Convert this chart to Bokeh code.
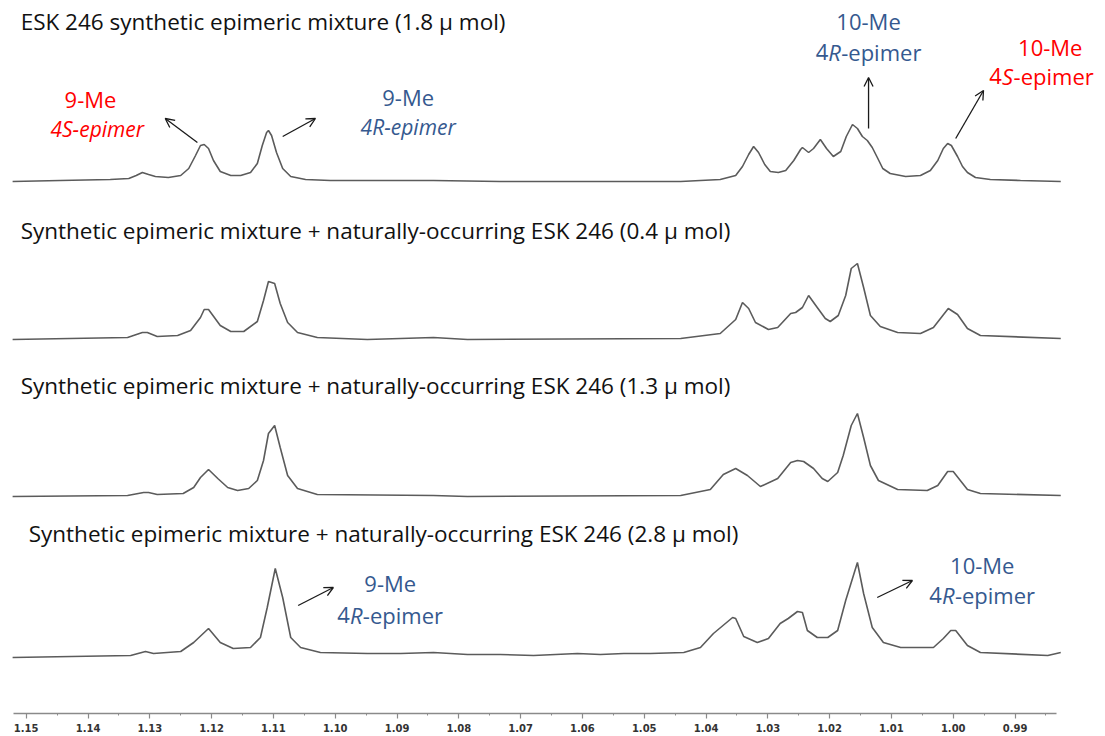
from bokeh.plotting import figure
from bokeh.models import Range1d, FixedTicker, PrintfTickFormatter, Arrow, OpenHead
from bokeh.core.properties import value
from bokeh.embed import file_html
from bokeh.resources import INLINE

# ---------------- data ----------------
major_ticks = [1.15, 1.14, 1.13, 1.12, 1.11, 1.10, 1.09, 1.08, 1.07, 1.06,
               1.05, 1.04, 1.03, 1.02, 1.01, 1.00, 0.99]
minor_ticks = [1.145, 1.135, 1.125, 1.115, 1.105, 1.095, 1.085, 1.075, 1.065,
               1.055, 1.045, 1.035, 1.025, 1.015, 1.005, 0.995, 0.985]

# (ppm, relative intensity)
trace1 = [(1.1522, 0), (1.1445, 1), (1.1364, 2), (1.1334, 3), (1.1322, 6), (1.1312, 9),
          (1.1302, 7), (1.1291, 5), (1.1270, 4), (1.1250, 6), (1.1237, 13), (1.1226, 26),
          (1.1218, 36), (1.1212, 37), (1.1205, 33), (1.1197, 21), (1.1186, 10), (1.1169, 6),
          (1.1153, 6), (1.1137, 9), (1.1126, 18), (1.1118, 36), (1.1111, 49), (1.1108, 51),
          (1.1103, 46), (1.1095, 29), (1.1085, 13), (1.1072, 5), (1.1048, 2), (1.1008, 1),
          (1.0927, 1), (1.0841, 1), (1.0733, 0), (1.0571, 0), (1.0441, 0), (1.0377, 2),
          (1.0352, 6), (1.0341, 15), (1.0331, 27), (1.0323, 35), (1.0315, 29), (1.0305, 17),
          (1.0296, 10), (1.0283, 9), (1.0271, 11), (1.0258, 21), (1.0247, 32), (1.0244, 34),
          (1.0234, 29), (1.0226, 33), (1.0215, 42), (1.0205, 33), (1.0194, 25), (1.0182, 30),
          (1.0173, 45), (1.0163, 57), (1.0155, 53), (1.0147, 45), (1.0139, 41), (1.0131, 34),
          (1.0122, 23), (1.0114, 13), (1.0102, 8), (1.0077, 5), (1.0053, 6), (1.0037, 11),
          (1.0025, 21), (1.0016, 33), (1.0009, 38), (1.0003, 36), (0.9993, 25), (0.9985, 15),
          (0.9977, 9), (0.9964, 4), (0.9940, 2), (0.9891, 1), (0.9826, 0)]

trace2 = [(1.1522, 0), (1.1336, 2), (1.1312, 7), (1.1304, 7), (1.1288, 3), (1.1255, 4),
          (1.1234, 9), (1.1218, 22), (1.1212, 30), (1.1205, 30), (1.1186, 14), (1.1169, 8),
          (1.1148, 8), (1.1126, 18), (1.1116, 39), (1.1108, 58), (1.1098, 56), (1.1089, 36),
          (1.1077, 17), (1.1061, 7), (1.1029, 2), (1.0948, 0), (1.0841, 2), (1.0786, 0),
          (1.0441, 1), (1.0377, 6), (1.0352, 20), (1.0341, 37), (1.0331, 31), (1.0320, 17),
          (1.0299, 10), (1.0284, 12), (1.0263, 26), (1.0255, 27), (1.0244, 32), (1.0234, 44),
          (1.0220, 32), (1.0207, 21), (1.0199, 18), (1.0186, 24), (1.0174, 44), (1.0165, 71),
          (1.0155, 76), (1.0145, 52), (1.0134, 24), (1.0118, 13), (1.0090, 7), (1.0053, 6),
          (1.0032, 12), (1.0008, 31), (0.9993, 25), (0.9977, 11), (0.9956, 4), (0.9826, 1)]

trace3 = [(1.1522, 0), (1.1336, 1), (1.1310, 4), (1.1302, 4), (1.1288, 2), (1.1246, 3),
          (1.1229, 9), (1.1218, 19), (1.1205, 27), (1.1190, 18), (1.1174, 9), (1.1158, 6),
          (1.1140, 8), (1.1126, 16), (1.1116, 36), (1.1108, 63), (1.1098, 71), (1.1089, 49),
          (1.1077, 21), (1.1061, 8), (1.1029, 2), (1.0841, 1), (1.0786, 0), (1.0441, 1),
          (1.0393, 7), (1.0372, 22), (1.0352, 28), (1.0333, 21), (1.0312, 10), (1.0284, 18),
          (1.0263, 34), (1.0252, 36), (1.0242, 35), (1.0226, 28), (1.0212, 18), (1.0203, 15),
          (1.0187, 24), (1.0178, 41), (1.0165, 71), (1.0155, 83), (1.0145, 59), (1.0134, 31),
          (1.0121, 16), (1.0090, 7), (1.0042, 6), (1.0025, 11), (1.0009, 25), (1.0000, 25),
          (0.9977, 7), (0.9956, 3), (0.9826, 1)]

trace4 = [(1.1522, 0), (1.1331, 2), (1.1307, 6), (1.1294, 4), (1.1250, 6), (1.1229, 15),
          (1.1205, 29), (1.1186, 15), (1.1165, 9), (1.1137, 10), (1.1121, 20), (1.1110, 50),
          (1.1097, 89), (1.1085, 60), (1.1072, 20), (1.1056, 10), (1.1024, 5), (1.0948, 4),
          (1.0894, 4), (1.0841, 5), (1.0786, 3), (1.0733, 3), (1.0679, 2), (1.0608, 4),
          (1.0571, 3), (1.0533, 4), (1.0490, 4), (1.0436, 5), (1.0409, 10), (1.0388, 24),
          (1.0357, 40), (1.0352, 39), (1.0339, 21), (1.0317, 15), (1.0299, 19), (1.0280, 34),
          (1.0267, 39), (1.0252, 46), (1.0244, 45), (1.0236, 27), (1.0220, 20), (1.0203, 20),
          (1.0187, 27), (1.0174, 57), (1.0155, 95), (1.0145, 64), (1.0131, 30), (1.0113, 15),
          (1.0085, 10), (1.0032, 10), (1.0016, 19), (1.0004, 27), (0.9996, 27), (0.9977, 12),
          (0.9956, 5), (0.9847, 2), (0.9826, 5)]

spectra = [trace1, trace2, trace3, trace4]

titles = ["ESK 246 synthetic epimeric mixture (1.8 \u03bc mol)",
          "Synthetic epimeric mixture + naturally-occurring ESK 246 (0.4 \u03bc mol)",
          "Synthetic epimeric mixture + naturally-occurring ESK 246 (1.3 \u03bc mol)",
          "Synthetic epimeric mixture + naturally-occurring ESK 246 (2.8 \u03bc mol)"]

# ---------------- layout ----------------
W, H = 1105, 736
FRAME_H = 713
offsets = [532, 374, 217, 56]            # vertical stacking offset per trace
title_x = [1.1509, 1.1509, 1.1509, 1.1496]
title_y = [692, 483, 328, 180]

RED = "#ff0000"
BLUE = "#35598f"
FONT = "Open Sans"
LBL_SIZE = 22

p = figure(width=W, height=H, x_range=Range1d(1.15416, 0.97536),
           y_range=Range1d(0, FRAME_H), output_backend="svg",
           toolbar_location=None, y_axis_location=None,
           min_border_left=0, min_border_right=0, min_border_top=0,
           min_border_bottom=H - FRAME_H)
p.outline_line_color = None
p.grid.visible = False
p.background_fill_color = "white"

ax = p.xaxis[0]
ax.ticker = FixedTicker(ticks=major_ticks, minor_ticks=minor_ticks)
ax.formatter = PrintfTickFormatter(format="%.2f")
ax.bounds = (0.9833, 1.1521)
ax.axis_line_color = "#8a8a8a"
ax.axis_line_width = 1.6
ax.major_tick_line_color = "#8a8a8a"
ax.major_tick_line_width = 1.2
ax.major_tick_in = 0
ax.major_tick_out = 5
ax.minor_tick_line_color = "#8a8a8a"
ax.minor_tick_in = 0
ax.minor_tick_out = 2
ax.major_label_text_font = "DejaVu Sans"
ax.major_label_text_font_style = "bold"
ax.major_label_text_font_size = "10px"
ax.major_label_text_color = "#333333"
ax.major_label_standoff = 5

for tr, off in zip(spectra, offsets):
    xs = [pt[0] for pt in tr]
    ys = [off + pt[1] for pt in tr]
    p.line(xs, ys, line_color="#5b5b5b", line_width=1.6)

p.text(x=title_x, y=title_y, text=titles, text_font=value(FONT),
       text_font_size="22.5px", text_color="#111111",
       text_align="left", text_baseline="alphabetic")

# plain (single-style) labels: text, x, y, color, style
plain = [("9-Me", 1.1396, 615, RED, "normal"),
         ("4S-epimer", 1.1385, 585, RED, "italic"),
         ("9-Me", 1.0882, 617, BLUE, "normal"),
         ("4R-epimer", 1.0882, 587, BLUE, "italic"),
         ("10-Me", 1.0137, 693, BLUE, "normal"),
         ("10-Me", 0.9843, 667, RED, "normal"),
         ("9-Me", 1.0911, 131, BLUE, "normal"),
         ("10-Me", 0.9953, 149, BLUE, "normal")]
for t, x, y, c, st in plain:
    p.text(x=[x], y=[y], text=[t], text_font=value(FONT),
           text_font_size=f"{LBL_SIZE if st == 'normal' else LBL_SIZE - 1}px",
           text_color=c, text_font_style=st,
           text_align="center", text_baseline="middle")

# mixed labels: "4" + italic letter + "-epimer"
ADV = {"4": 0.572, "R": 0.59, "S": 0.53, "-": 0.322, "e": 0.561, "p": 0.613,
       "i": 0.258, "m": 0.925, "r": 0.408}
mixed = [("R", 1.0137, 662, BLUE),
         ("S", 0.9857, 638, RED),
         ("R", 1.0911, 99, BLUE),
         ("R", 0.9953, 119, BLUE)]
for letter, x, y, c in mixed:
    pieces = [("4", "normal"), (letter, "italic"), ("-epimer", "normal")]
    widths = [sum(ADV[ch] for ch in s) * LBL_SIZE for s, _ in pieces]
    left = -sum(widths) / 2
    for (s, st), w in zip(pieces, widths):
        p.text(x=[x], y=[y], text=[s], x_offset=left, text_font=value(FONT),
               text_font_size=f"{LBL_SIZE}px", text_color=c, text_font_style=st,
               text_align="left", text_baseline="middle")
        left += w

arrows = [(1.1223, 571, 1.1275, 595),
          (1.1085, 577, 1.1032, 595),
          (1.0137, 585, 1.0137, 636),
          (0.9996, 575, 0.9951, 623),
          (1.1060, 108, 1.1003, 126),
          (1.0123, 116, 1.0066, 133)]
for x0, y0, x1, y1 in arrows:
    p.add_layout(Arrow(end=OpenHead(size=9, line_width=1.3, line_color="#1a1a1a"),
                       x_start=x0, y_start=y0, x_end=x1, y_end=y1,
                       line_width=1.3, line_color="#1a1a1a"))

open("out.html", "w").write(file_html(p, INLINE))
